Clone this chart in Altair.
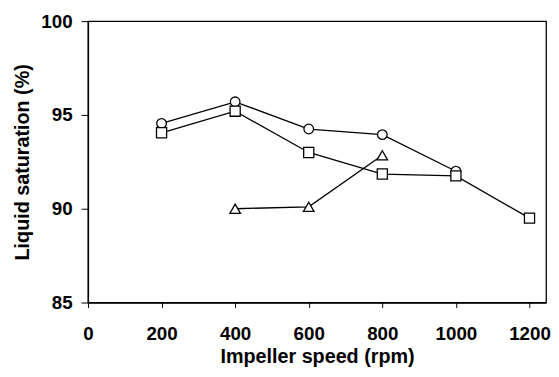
import altair as alt
import pandas as pd

# Series
circle_x = [200, 400, 600, 800, 1000]
circle_y = [94.55, 95.7, 94.25, 93.95, 92.0]
square_x = [200, 400, 600, 800, 1000, 1200]
square_y = [94.05, 95.2, 93.0, 91.85, 91.75, 89.5]
triangle_x = [400, 600, 800]
triangle_y = [90.0, 90.1, 92.85]

x_ticks = [0, 200, 400, 600, 800, 1000, 1200]
y_ticks = [85, 90, 95, 100]

rows = []
for name, xs, ys in [("circle", circle_x, circle_y),
                     ("square", square_x, square_y),
                     ("triangle", triangle_x, triangle_y)]:
    for xv, yv in zip(xs, ys):
        rows.append({"series": name, "speed": xv, "sat": yv})
df = pd.DataFrame(rows)

FONT = "Liberation Sans"

x_enc = alt.X("speed:Q",
              scale=alt.Scale(domain=[0, 1245], nice=False, zero=False),
              axis=alt.Axis(values=x_ticks, format="d", title="Impeller speed (rpm)",
                            tickSize=5, labelPadding=17,
                            titleY=45, titleBaseline="top"))
y_enc = alt.Y("sat:Q",
              scale=alt.Scale(domain=[85, 100], nice=False, zero=False),
              axis=alt.Axis(values=y_ticks, format="d", title="Liquid saturation (%)",
                            tickSize=7, labelPadding=9,
                            titleX=-66, titleY=142.5, titleAngle=-90,
                            titleAlign="center", titleBaseline="middle"))

lines = alt.Chart(df).mark_line(color="black", strokeWidth=1.3).encode(
    x=x_enc, y=y_enc, detail="series:N", order="speed:Q"
)

points = alt.Chart(df).mark_point(filled=True, fill="white", stroke="black",
                                  strokeWidth=1.3, opacity=1).encode(
    x="speed:Q", y="sat:Q",
    shape=alt.Shape("series:N",
                    scale=alt.Scale(domain=["circle", "square", "triangle"],
                                    range=["circle", "square", "triangle-up"]),
                    legend=None),
    size=alt.Size("series:N",
                  scale=alt.Scale(domain=["circle", "square", "triangle"],
                                  range=[95, 115, 105]),
                  legend=None),
)

chart = (lines + points).properties(
    width=464, height=285,
    autosize=alt.AutoSizeParams(type="none"),
    padding={"left": 81, "top": 11, "right": 5, "bottom": 65},
    background="white",
).configure_view(
    stroke="black", strokeWidth=1.3
).configure_axis(
    grid=False, domainColor="black", domainWidth=1.3,
    tickColor="black", tickWidth=1,
    labelFont=FONT, labelFontSize=19, labelFontWeight="bold", labelColor="black",
    titleFont=FONT, titleFontSize=20, titleFontWeight="bold", titleColor="black",
    labelFlush=False,
)

chart.save("out.html", embed_options={"renderer": "svg", "actions": False})
